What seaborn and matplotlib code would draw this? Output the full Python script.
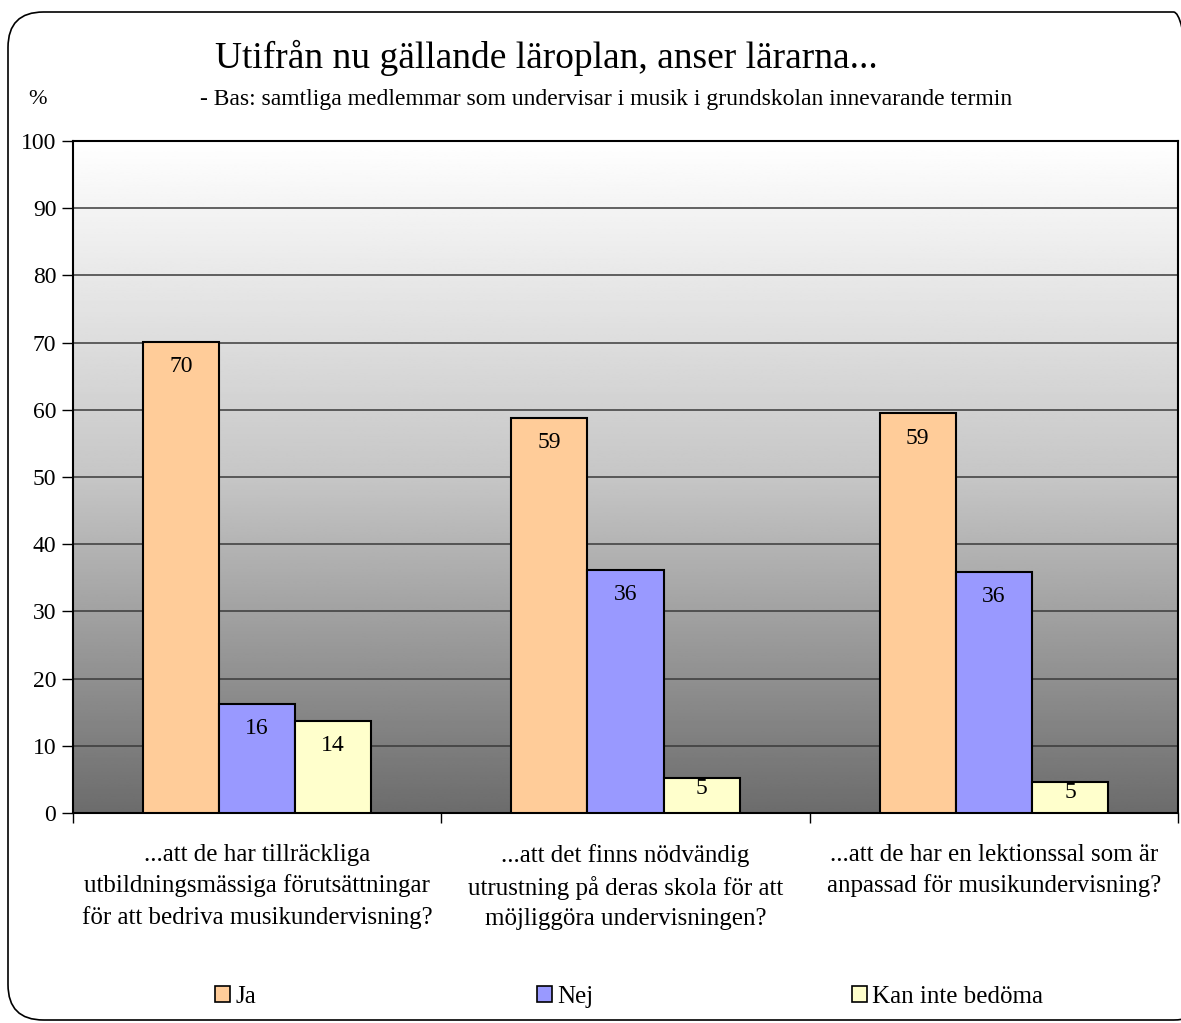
import numpy as np
import pandas as pd
import matplotlib
matplotlib.use("Agg")
import matplotlib.pyplot as plt
import seaborn as sns
from matplotlib.patches import Patch, FancyBboxPatch

categories = [
    "...att de har tillräckliga\nutbildningsmässiga förutsättningar\nför att bedriva musikundervisning?",
    "...att det finns nödvändig\nutrustning på deras skola för att\nmöjliggöra undervisningen?",
    "...att de har en lektionssal som är\nanpassad för musikundervisning?",
]
series = ["Ja", "Nej", "Kan inte bedöma"]
ja = [70.1, 58.8, 59.5]
nej = [16.2, 36.2, 35.9]
kan = [13.7, 5.2, 4.6]
labels_ja = ["70", "59", "59"]
labels_nej = ["16", "36", "36"]
labels_kan = ["14", "5", "5"]
colors = ["#FFCC99", "#9999FF", "#FFFFCC"]
yticks = [0, 10, 20, 30, 40, 50, 60, 70, 80, 90, 100]

title = "Utifrån nu gällande läroplan, anser lärarna..."
subtitle = "- Bas: samtliga medlemmar som undervisar i musik i grundskolan innevarande termin"

sns.set_theme(style="white")
plt.rcParams["font.family"] = ["Liberation Serif", "DejaVu Serif"]
plt.rcParams["text.color"] = "black"
plt.rcParams["xtick.color"] = "black"
plt.rcParams["ytick.color"] = "black"

df = pd.DataFrame({
    "cat": categories * 3,
    "series": [s for s in series for _ in categories],
    "value": ja + nej + kan,
})

W, H = 1181, 1023
fig = plt.figure(figsize=(W / 100, H / 100), dpi=100)
fig.patch.set_facecolor("white")

# rounded outer border
border = FancyBboxPatch((8 / W, 3 / H), (W + 20) / W, (H - 15) / H,
                        boxstyle="round,pad=0,rounding_size=0.03",
                        transform=fig.transFigure, fill=False,
                        edgecolor="black", linewidth=1.2, mutation_aspect=W / H)
fig.patches.append(border)

ax = fig.add_axes([73 / W, 1 - 813 / H, (1178 - 73) / W, (813 - 141) / H])

# gradient background
yy = np.linspace(0, 100, 400)
gray = np.interp(yy, [0, 50, 100], [108, 198, 255]) / 255.0
grad = np.repeat(gray[:, None], 2, axis=1)
ax.imshow(grad, extent=[-0.5, 2.5, 0, 100], origin="lower", aspect="auto",
          cmap="gray", vmin=0, vmax=1, zorder=0)

sns.barplot(data=df, x="cat", y="value", hue="series", hue_order=series,
            palette=colors, width=0.62, gap=0, edgecolor="black", linewidth=1.5,
            saturation=1, ax=ax, legend=False, zorder=3)

ax.set_xlim(-0.5, 2.5)
ax.set_ylim(0, 100)
ax.set_yticks(yticks)
ax.set_yticklabels([str(t) for t in yticks])
for y in yticks[1:-1]:
    ax.axhline(y, color="#3a3a3a", linewidth=1.1, zorder=1)
ax.grid(False)
for sp in ax.spines.values():
    sp.set_color("black")
    sp.set_linewidth(1.5)
    sp.set_visible(True)
ax.set_xlabel("")
ax.set_ylabel("")
ax.tick_params(axis="y", direction="out", length=8, width=1, pad=4,
               labelsize=17, left=True, colors="black")
ax.tick_params(axis="x", which="major", length=0, pad=22, labelsize=18)
ax.set_xticks([-0.5, 0.5, 1.5, 2.5], minor=True)
ax.tick_params(axis="x", which="minor", direction="out", length=7, width=1,
               bottom=True, colors="black")
for lab in ax.get_xticklabels():
    lab.set_linespacing(1.48)
    lab.set_ha("center")

# data labels
all_labels = [labels_ja, labels_nej, labels_kan]
for cont, labs in zip(ax.containers, all_labels):
    for rect, lab in zip(cont, labs):
        v = rect.get_height()
        yc = v - 3.7 if v > 10 else v - 1.6
        ax.text(rect.get_x() + rect.get_width() / 2, yc, lab, ha="center",
                va="center", fontsize=17, color="black", zorder=5)

fig.text(215 / W, 1 - 58 / H, title, fontsize=27, ha="left", va="center")
fig.text(200 / W, 1 - 99 / H, subtitle, fontsize=17, ha="left", va="center")
fig.text(38 / W, 1 - 100 / H, "%", fontsize=16, ha="center", va="center")

# legend entries
leg_x = [215, 537, 852]
for s, c, x in zip(series, colors, leg_x):
    fig.legend(handles=[Patch(facecolor=c, edgecolor="black", linewidth=1.2, label=s)],
               loc="center left", bbox_to_anchor=(x / W, 1 - 997 / H),
               frameon=False, fontsize=18, handlelength=0.6, handleheight=0.6,
               handletextpad=0.2, borderpad=0, borderaxespad=0)

fig.savefig("out.png", dpi=100)
